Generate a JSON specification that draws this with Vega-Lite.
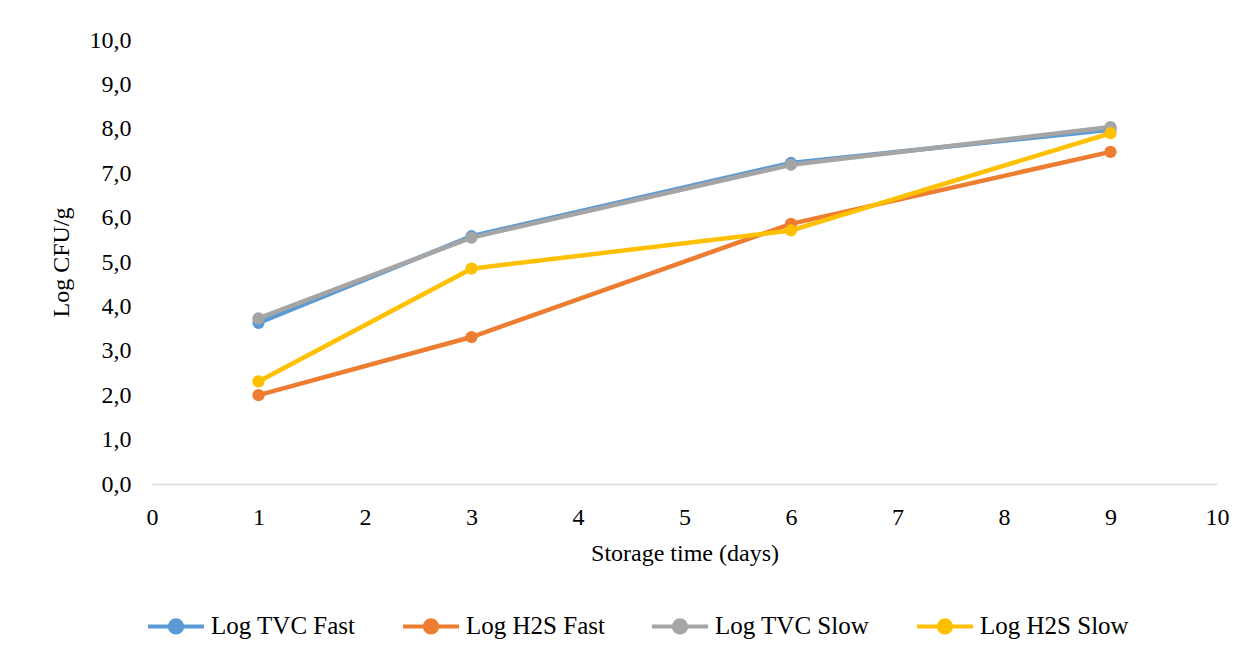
{
  "$schema": "https://vega.github.io/schema/vega-lite/v6.json",
  "width": 1065,
  "height": 444,
  "autosize": {"type": "none"},
  "padding": {"left": 152, "top": 40, "right": 31, "bottom": 174},
  "background": "white",
  "config": {
    "view": {"stroke": null},
    "font": "Liberation Serif, serif",
    "axis": {"labelFont": "Liberation Serif, serif", "titleFont": "Liberation Serif, serif", "labelColor": "#000", "titleColor": "#000", "titleFontWeight": "normal", "grid": false, "ticks": false},
    "legend": {"labelFont": "Liberation Serif, serif"}
  },
  "data": {
    "values": [
      {"day": 1, "series": "Log TVC Fast", "value": 3.63},
      {"day": 3, "series": "Log TVC Fast", "value": 5.58},
      {"day": 6, "series": "Log TVC Fast", "value": 7.23},
      {"day": 9, "series": "Log TVC Fast", "value": 7.98},
      {"day": 1, "series": "Log H2S Fast", "value": 2.0},
      {"day": 3, "series": "Log H2S Fast", "value": 3.31},
      {"day": 6, "series": "Log H2S Fast", "value": 5.86},
      {"day": 9, "series": "Log H2S Fast", "value": 7.48},
      {"day": 1, "series": "Log TVC Slow", "value": 3.73},
      {"day": 3, "series": "Log TVC Slow", "value": 5.55},
      {"day": 6, "series": "Log TVC Slow", "value": 7.19},
      {"day": 9, "series": "Log TVC Slow", "value": 8.04},
      {"day": 1, "series": "Log H2S Slow", "value": 2.31},
      {"day": 3, "series": "Log H2S Slow", "value": 4.85},
      {"day": 6, "series": "Log H2S Slow", "value": 5.71},
      {"day": 9, "series": "Log H2S Slow", "value": 7.9}
    ]
  },
  "mark": {"type": "line", "strokeWidth": 4.5, "point": {"filled": true, "size": 150, "opacity": 1}},
  "encoding": {
    "x": {
      "field": "day", "type": "quantitative",
      "scale": {"domain": [0, 10], "nice": false},
      "axis": {"values": [0,1,2,3,4,5,6,7,8,9,10], "format": "d", "title": "Storage time (days)", "labelFontSize": 24, "titleFontSize": 24, "labelPadding": 21, "titlePadding": 12, "domainColor": "#D9D9D9", "domainWidth": 1.5, "labelFlush": false}
    },
    "y": {
      "field": "value", "type": "quantitative",
      "scale": {"domain": [0, 10], "nice": false},
      "axis": {"values": [0,1,2,3,4,5,6,7,8,9,10], "labelExpr": "replace(format(datum.value, '.1f'), '.', ',')", "title": "Log CFU/g", "labelFontSize": 24, "titleFontSize": 24, "labelPadding": 21, "titlePadding": 16, "domain": false, "labelFlush": false}
    },
    "color": {
      "field": "series", "type": "nominal",
      "scale": {"domain": ["Log TVC Fast", "Log H2S Fast", "Log TVC Slow", "Log H2S Slow"], "range": ["#5B9BD5", "#ED7D31", "#A5A5A5", "#FFC000"]},
      "legend": {
        "title": null,
        "orient": "none",
        "direction": "horizontal",
        "legendX": -6,
        "legendY": 556,
        "labelFont": "Liberation Serif, serif",
        "labelFontSize": 25,
        "labelColor": "#000",
        "symbolType": "M-1,0L1,0M-0.22,0A0.22,0.22 0 1,0 0.22,0A0.22,0.22 0 1,0 -0.22,0Z",
        "symbolSize": 3136,
        "symbolStrokeWidth": 4,
        "labelOffset": 5,
        "columnPadding": 39,
        "labelLimit": 400,
        "encode": {"symbols": {"update": {"fill": {"scale": "color", "field": "value"}, "fillOpacity": {"value": 1}, "opacity": {"value": 1}}}}
      }
    }
  }
}
